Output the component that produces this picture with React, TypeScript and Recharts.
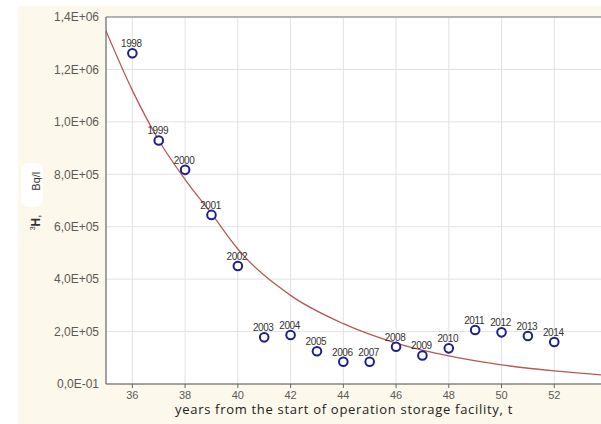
import { ComposedChart, Scatter, Line, XAxis, YAxis, CartesianGrid, ReferenceLine } from 'recharts';

// measured points, one per year
const years = [1998, 1999, 2000, 2001, 2002, 2003, 2004, 2005, 2006, 2007, 2008, 2009, 2010, 2011, 2012, 2013, 2014];
const tValues = [36, 37, 38, 39, 40, 41, 42, 43, 44, 45, 46, 47, 48, 49, 50, 51, 52];
const activity = [
    1262000, 929000, 817000, 645000, 450000, 178000, 187000, 125000, 85000,
    85000, 142000, 109000, 136000, 206000, 197000, 183000, 160000,
];

// fitted curve
const curveT = [35, 36, 37, 38, 39, 40, 42, 44, 46, 48, 50, 52, 54];
const curveValues = [1347000, 1120000, 930000, 780000, 650000, 515000, 338000, 230000, 156000, 107000, 73000, 50000, 33000];

const xTicks = [36, 38, 40, 42, 44, 46, 48, 50, 52, 54];
const yTicks = [0, 200000, 400000, 600000, 800000, 1000000, 1200000, 1400000];
const yTickLabels = ['0,0E-01', '2,0E+05', '4,0E+05', '6,0E+05', '8,0E+05', '1,0E+06', '1,2E+06', '1,4E+06'];

const points = years.map((year, i) => ({ t: tValues[i], value: activity[i], year }));
const curve = curveT.map((t, i) => ({ t, fit: curveValues[i] }));

const font = '"Liberation Sans", Arial, sans-serif';

const PointShape = (props: any) => {
    const { cx, cy, payload } = props;
    return (
        <g>
            <circle cx={cx} cy={cy} r={4.3} fill="#fff" stroke="#1e1e8e" strokeWidth={2} />
            <text
                x={cx - 1}
                y={cy - 6}
                textAnchor="middle"
                fontSize={10}
                letterSpacing={-0.4}
                fill="#333"
                fontFamily={font}
            >
                {payload.year}
            </text>
        </g>
    );
};

export default function App() {
    return (
        <div style={{ position: 'absolute', left: 0, top: 0, width: 601, height: 424, overflow: 'hidden', background: '#fff' }}>
            <div style={{ position: 'absolute', left: 18, top: 6, width: 600, height: 420, background: '#fcf8eb' }} />
            <div
                style={{
                    position: 'absolute', left: 21, top: 163, width: 22, height: 44,
                    background: '#fff', borderRadius: 8,
                }}
            />
            <div style={{ position: 'absolute', left: 0, top: 0 }}>
                <ComposedChart width={620} height={424} margin={{ top: 17, right: 13, bottom: 10, left: 26 }}>
                    <CartesianGrid stroke="#e2e2e2" fill="#fff" />
                    <XAxis
                        type="number"
                        dataKey="t"
                        domain={[35, 54]}
                        ticks={xTicks}
                        allowDataOverflow
                        height={30}
                        tick={{ fill: '#5a5a5a', fontSize: 11, fontFamily: font }}
                        tickSize={4}
                        tickMargin={3}
                        tickLine={{ stroke: '#666' }}
                        axisLine={{ stroke: '#555' }}
                    />
                    <YAxis
                        type="number"
                        domain={[0, 1400000]}
                        ticks={yTicks}
                        width={80}
                        tick={{ fill: '#5a5a5a', fontSize: 12, fontFamily: font }}
                        tickSize={4}
                        tickMargin={3}
                        tickLine={false}
                        axisLine={{ stroke: '#555' }}
                        tickFormatter={(v: number) => yTickLabels[yTicks.indexOf(v)] ?? ''}
                    />
                    <ReferenceLine y={1400000} stroke="#777" />
                    <Line
                        data={curve}
                        dataKey="fit"
                        type="monotone"
                        stroke="#b65a55"
                        strokeWidth={1.3}
                        dot={false}
                        activeDot={false}
                        isAnimationActive={false}
                    />
                    <Scatter data={points} dataKey="value" shape={PointShape} isAnimationActive={false} />
                </ComposedChart>
            </div>
            <div style={{ position: 'absolute', left: 33, top: 201, width: 0, height: 0 }}>
                <div
                    style={{
                        position: 'absolute', left: -60, top: -8, width: 120, height: 16,
                        transform: 'rotate(-90deg)', textAlign: 'center', whiteSpace: 'nowrap',
                        fontFamily: font, fontSize: 11, color: '#333', lineHeight: '16px',
                    }}
                >
                    <span><sup style={{ fontSize: 7 }}>3</sup><b style={{ fontSize: 12 }}>H</b>,</span>
                    <span style={{ marginLeft: 24 }}>Bq/l</span>
                </div>
            </div>
            <div
                style={{
                    position: 'absolute', left: 175, top: 403, whiteSpace: 'nowrap', lineHeight: '12px',
                    fontFamily: '"Open Sans", sans-serif', fontSize: 13, letterSpacing: 0.7, color: '#222',
                }}
            >
                years from the start of operation storage facility, t
            </div>
        </div>
    );
}
